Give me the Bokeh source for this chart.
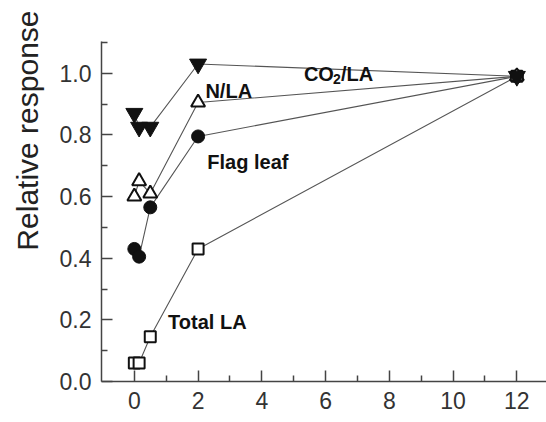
from bokeh.plotting import figure
from bokeh.models import Range1d, FixedTicker, Label, Title
from bokeh.embed import file_html
from bokeh.resources import INLINE

# ---- data ----
dose = [0, 0.15, 0.5, 2, 12]
co2_la = [0.87, 0.825, 0.825, 1.03, 0.99]
n_la = [0.60, 0.65, 0.61, 0.905, 0.99]
flag_leaf = [0.43, 0.405, 0.565, 0.795, 0.99]
total_la = [0.06, 0.06, 0.145, 0.43, 0.99]

x_ticks = [0, 2, 4, 6, 8, 10, 12]
x_minor = [1, 3, 5, 7, 9, 11]
y_ticks = [0.0, 0.2, 0.4, 0.6, 0.8, 1.0]
y_minor = [0.1, 0.3, 0.5, 0.7, 0.9, 1.1]
y_tick_labels = {0.0: "0.0", 0.2: "0.2", 0.4: "0.4", 0.6: "0.6", 0.8: "0.8", 1.0: "1.0"}

FONT = "Liberation Sans"
INK = "#111111"
LINE = "#555555"

p = figure(width=546, height=422, output_backend="svg", toolbar_location=None,
           x_range=Range1d(-1.03, 12.93), y_range=Range1d(0, 1.103),
           min_border_left=101, min_border_right=0, min_border_top=41, min_border_bottom=41)
p.outline_line_color = None
p.grid.grid_line_color = None
p.background_fill_color = "white"

for ax in (p.xaxis[0], p.yaxis[0]):
    ax.axis_line_color = "#444444"
    ax.axis_line_width = 1.5
    ax.major_tick_line_color = "#444444"
    ax.minor_tick_line_color = "#444444"
    ax.major_tick_line_width = 1.5
    ax.minor_tick_line_width = 1.5
    ax.major_tick_in = 11
    ax.major_tick_out = 0
    ax.minor_tick_in = 6
    ax.minor_tick_out = 0
    ax.major_label_text_font = FONT
    ax.major_label_text_font_size = "23px"
    ax.major_label_text_color = "#333333"

p.xaxis[0].ticker = FixedTicker(ticks=x_ticks, minor_ticks=x_minor)
p.yaxis[0].ticker = FixedTicker(ticks=y_ticks, minor_ticks=y_minor)
p.yaxis[0].major_label_overrides = y_tick_labels
p.xaxis[0].major_label_standoff = 10
p.yaxis[0].major_label_standoff = 10

# connecting lines
for ys in (co2_la, n_la, flag_leaf, total_la):
    p.line(dose, ys, line_color=LINE, line_width=1.1)

# markers
p.scatter(dose, total_la, marker="square", size=11, fill_color="white",
          line_color=INK, line_width=2)
p.scatter(dose, flag_leaf, marker="circle", size=13, fill_color=INK,
          line_color=INK, line_width=1)
p.scatter(dose, n_la, marker="triangle", size=14, fill_color="white",
          line_color=INK, line_width=2)
p.scatter(dose, co2_la, marker="inverted_triangle", size=17, fill_color=INK,
          line_color=INK, line_width=1)

lab = dict(text_font=FONT, text_font_style="bold", text_color=INK,
           text_font_size="20px", text_baseline="alphabetic")
p.add_layout(Label(x=5.32, y=0.997, text="CO", **lab))
p.add_layout(Label(x=5.32, y=0.997, x_offset=29, y_offset=-5, text="2",
                   text_font=FONT, text_font_style="bold", text_color=INK,
                   text_font_size="14px", text_baseline="alphabetic"))
p.add_layout(Label(x=5.32, y=0.997, x_offset=37, text="/LA", **lab))
p.add_layout(Label(x=2.23, y=0.944, text="N/LA", **lab))
p.add_layout(Label(x=2.29, y=0.713, text="Flag leaf", **lab))
p.add_layout(Label(x=1.06, y=0.194, text="Total LA", **lab))

# y axis title, its end placed near the top like in the reference
p.add_layout(Title(text="Relative response", align="right", offset=-31,
                   vertical_align="top", standoff=21, text_font=FONT,
                   text_font_size="30px", text_font_style="normal",
                   text_color="#222222"), "left")

open("out.html", "w").write(file_html(p, INLINE))
